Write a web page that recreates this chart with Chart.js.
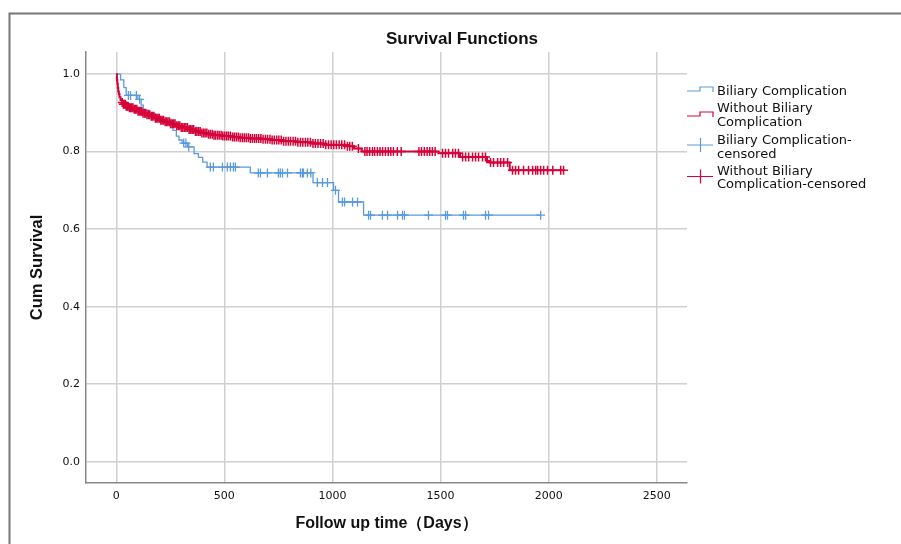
<!DOCTYPE html>
<html>
<head>
<meta charset="utf-8">
<title>Survival Functions</title>
<script src="https://cdn.jsdelivr.net/npm/chart.js@4.4.1/dist/chart.umd.min.js"></script>
<style>
  html, body { margin: 0; padding: 0; background: #fff; }
</style>
</head>
<body>
<canvas id="chart" width="901" height="544"></canvas>
<script>
// Biliary complication group: event times (days) and survival after each event
const bileTimes = [20, 35, 46, 100, 115, 125, 150, 180, 205, 227, 262, 278, 290, 305, 330, 360, 380, 400, 420, 620, 910, 1005, 1028, 1144];
const bileSurv = [0.985, 0.965, 0.945, 0.935, 0.92, 0.907, 0.898, 0.889, 0.88, 0.872, 0.855, 0.84, 0.83, 0.822, 0.812, 0.795, 0.785, 0.773, 0.76, 0.745, 0.72, 0.70, 0.67, 0.636];
const bileCensored = [56, 66, 93, 108, 250, 312, 322, 335, 435, 449, 491, 514, 528, 542, 551, 657, 667, 699, 750, 759, 769, 792, 852, 861, 866, 884, 900, 930, 954, 977, 1014, 1046, 1056, 1093, 1116, 1167, 1176, 1231, 1255, 1301, 1324, 1333, 1444, 1523, 1532, 1606, 1616, 1708, 1722, 1963];

// Group without biliary complication
const noBileTimes = [3, 5, 7, 9, 12, 15, 20, 26, 32, 45, 60, 80, 100, 120, 140, 160, 180, 200, 225, 250, 275, 300, 330, 360, 390, 420, 450, 490, 530, 570, 620, 670, 720, 770, 830, 900, 960, 1060, 1100, 1135, 1490, 1590, 1715, 1730, 1820];
const noBileSurv = [0.985, 0.975, 0.965, 0.955, 0.948, 0.94, 0.933, 0.927, 0.922, 0.917, 0.913, 0.909, 0.904, 0.899, 0.895, 0.891, 0.886, 0.881, 0.877, 0.872, 0.867, 0.862, 0.857, 0.852, 0.848, 0.845, 0.842, 0.84, 0.838, 0.836, 0.834, 0.832, 0.83, 0.827, 0.824, 0.821, 0.818, 0.814, 0.808, 0.80, 0.796, 0.786, 0.776, 0.772, 0.752];
const noBileCensored = [28, 33, 37, 42, 46, 51, 55, 61, 66, 72, 77, 83, 88, 95, 101, 106, 113, 118, 124, 131, 136, 142, 149, 155, 162, 167, 174, 181, 187, 193, 199, 206, 212, 219, 226, 232, 239, 246, 253, 259, 266, 272, 280, 287, 294, 301, 308, 315, 322, 329, 337, 344, 351, 358, 366, 373, 381, 388, 396, 404, 411, 419, 427, 435, 444, 452, 459, 468, 476, 485, 493, 502, 511, 519, 528, 538, 546, 555, 564, 573, 583, 592, 601, 611, 620, 630, 640, 649, 659, 669, 679, 690, 700, 711, 721, 731, 742, 752, 763, 774, 785, 796, 806, 818, 829, 840, 852, 863, 875, 886, 898, 910, 921, 933, 945, 957, 969, 982, 994, 1006, 1018, 1031, 1043, 1056, 1069, 1080, 1092, 1120, 1150, 1160, 1172, 1185, 1195, 1208, 1220, 1232, 1245, 1258, 1270, 1282, 1300, 1318, 1400, 1412, 1425, 1438, 1450, 1462, 1475, 1509, 1523, 1537, 1556, 1569, 1583, 1602, 1616, 1630, 1648, 1662, 1676, 1694, 1708, 1731, 1745, 1764, 1778, 1792, 1810, 1833, 1847, 1861, 1884, 1907, 1926, 1940, 1949, 1963, 1977, 1995, 2019, 2056, 2069];

const xTicks = [0, 500, 1000, 1500, 2000, 2500];
const yTicks = [0, 0.2, 0.4, 0.6, 0.8, 1.0];

const legendLabels = [
  ['Biliary Complication'],
  ['Without Biliary', 'Complication'],
  ['Biliary Complication-', 'censored'],
  ['Without Biliary', 'Complication-censored']
];

const BLUE = '#5b9bdc';
const RED = '#d5033a';

// Survival value at time t (last step at or before t)
function survivalAt(times, surv, t) {
  let s = 1;
  for (let i = 0; i < times.length; i++) {
    if (times[i] <= t) s = surv[i];
  }
  return s;
}

// Step line points: start at 1.0, one point per event, run on to the last follow-up
function stepPoints(times, surv, censored) {
  const pts = [{ x: 0, y: 1 }];
  times.forEach((t, i) => pts.push({ x: t, y: surv[i] }));
  const end = censored[censored.length - 1];
  pts.push({ x: end, y: survivalAt(times, surv, end) });
  return pts;
}

function censorPoints(times, surv, censored) {
  return censored.map(t => ({ x: t, y: survivalAt(times, surv, t) }));
}

// Frame, title and legend are drawn straight on the canvas
function drawStepIcon(ctx, y, color) {
  ctx.strokeStyle = color;
  ctx.lineWidth = 1.2;
  ctx.beginPath();
  ctx.moveTo(687, y + 2);
  ctx.lineTo(700, y + 2);
  ctx.lineTo(700, y - 2);
  ctx.lineTo(713, y - 2);
  ctx.lineTo(713, y + 3);
  ctx.stroke();
}

function drawCrossIcon(ctx, y, color) {
  ctx.strokeStyle = color;
  ctx.lineWidth = 1.2;
  ctx.beginPath();
  ctx.moveTo(687, y);
  ctx.lineTo(713, y);
  ctx.moveTo(700.5, y - 7);
  ctx.lineTo(700.5, y + 7);
  ctx.stroke();
}

const decorPlugin = {
  id: 'decor',
  beforeDraw(chart) {
    const ctx = chart.ctx;
    ctx.save();
    ctx.fillStyle = '#fff';
    ctx.fillRect(0, 0, chart.width, chart.height);
    ctx.restore();
  },
  afterDraw(chart) {
    const ctx = chart.ctx;
    ctx.save();

    ctx.strokeStyle = '#777';
    ctx.lineWidth = 2;
    ctx.beginPath();
    ctx.moveTo(9.5, 544);
    ctx.lineTo(9.5, 13.5);
    ctx.lineTo(901, 13.5);
    ctx.stroke();

    ctx.fillStyle = '#111';
    ctx.font = 'bold 17px "Liberation Sans"';
    ctx.textAlign = 'center';
    ctx.textBaseline = 'middle';
    ctx.fillText('Survival Functions', 462, 39);

    drawStepIcon(ctx, 89, BLUE);
    drawStepIcon(ctx, 114, RED);
    drawCrossIcon(ctx, 145, BLUE);
    drawCrossIcon(ctx, 176.5, RED);

    ctx.font = '13px "DejaVu Sans"';
    ctx.textAlign = 'left';
    ctx.fillStyle = '#111';
    const rows = [91.5, 109, 141, 171.5];
    legendLabels.forEach((lines, i) => {
      lines.forEach((line, j) => ctx.fillText(line, 717, rows[i] + j * 13.5));
    });
    ctx.restore();
  }
};

Chart.defaults.font.family = '"DejaVu Sans"';

const ctx = document.getElementById('chart').getContext('2d');
const chart = new Chart(ctx, {
  type: 'scatter',
  data: {
    datasets: [
      {
        label: 'Without Biliary Complication-censored',
        data: censorPoints(noBileTimes, noBileSurv, noBileCensored),
        borderColor: RED,
        pointStyle: 'cross',
        pointRadius: 4.5,
        pointBorderWidth: 1.5,
        order: 0
      },
      {
        label: 'Without Biliary Complication',
        data: stepPoints(noBileTimes, noBileSurv, noBileCensored),
        showLine: true,
        stepped: true,
        borderColor: RED,
        borderWidth: 2,
        pointRadius: 0,
        order: 1
      },
      {
        label: 'Biliary Complication-censored',
        data: censorPoints(bileTimes, bileSurv, bileCensored),
        borderColor: BLUE,
        pointStyle: 'cross',
        pointRadius: 4.5,
        pointBorderWidth: 1.3,
        order: 2
      },
      {
        label: 'Biliary Complication',
        data: stepPoints(bileTimes, bileSurv, bileCensored),
        showLine: true,
        stepped: true,
        borderColor: BLUE,
        borderWidth: 1.3,
        pointRadius: 0,
        order: 3
      }
    ]
  },
  options: {
    responsive: false,
    animation: false,
    events: [],
    layout: { padding: { left: 10, right: 214, top: 52, bottom: 0 } },
    plugins: {
      legend: { display: false },
      title: { display: false },
      tooltip: { enabled: false }
    },
    scales: {
      x: {
        type: 'linear',
        min: -140,
        max: 2640,
        afterBuildTicks: axis => { axis.ticks = xTicks.map(v => ({ value: v })); },
        afterFit: axis => { axis.height = 61; },
        ticks: { padding: 7, color: '#111', font: { size: 11 }, callback: v => String(v) },
        grid: { color: '#d0d0d0', lineWidth: 1.5, drawTicks: false },
        border: { color: '#888', width: 1.5 },
        title: {
          display: true,
          text: 'Follow up time（Days）',
          color: '#111',
          font: { family: '"Liberation Sans"', weight: 'bold', size: 16 },
          padding: { top: 0, bottom: 11 }
        }
      },
      y: {
        type: 'linear',
        min: -0.055,
        max: 1.057,
        afterBuildTicks: axis => { axis.ticks = yTicks.map(v => ({ value: v })); },
        afterFit: axis => { axis.width = 76; },
        ticks: { padding: 6, color: '#111', font: { size: 11 }, callback: v => v.toFixed(1) },
        grid: { color: '#d0d0d0', lineWidth: 1.5, drawTicks: false },
        border: { color: '#888', width: 1.5 },
        title: {
          display: true,
          text: 'Cum Survival',
          color: '#111',
          font: { family: '"Liberation Sans"', weight: 'bold', size: 16.5 },
          padding: { top: 18, bottom: 0 }
        }
      }
    }
  },
  plugins: [decorPlugin]
});
</script>
</body>
</html>
